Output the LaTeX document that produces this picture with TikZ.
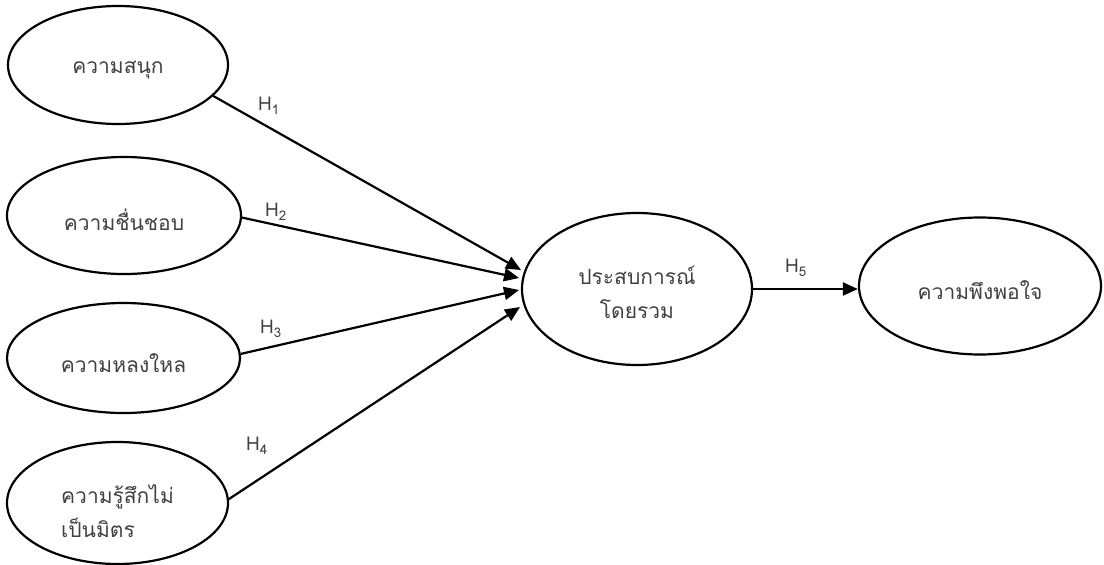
\documentclass[tikz,border=0pt]{standalone}
\usepackage{fontspec}
\newfontfamily\thaifont[Script=Thai]{Loma}
\usetikzlibrary{shapes.geometric,arrows.meta}
\definecolor{txt}{RGB}{64,64,64}
\begin{document}
\begin{tikzpicture}[x=1pt,y=-1pt,
  oval/.style={ellipse,draw=black,line width=2.2pt,inner sep=0pt},
  ovaltext/.style={font=\thaifont\fontsize{21}{34}\selectfont,text=txt,inner sep=0pt},
  link/.style={line width=2.2pt,-{Triangle[length=15pt,width=13pt]}},
  hlabel/.style={font=\thaifont\fontsize{19}{20}\selectfont,text=txt,inner sep=0pt}]
\useasboundingbox (0,0) rectangle (1104,565);
\node[oval,minimum width=220pt,minimum height=118pt] (e1) at (118,65) {};
\node[oval,minimum width=234pt,minimum height=117pt] (e2) at (124,215.5) {};
\node[oval,minimum width=233pt,minimum height=110pt] (e3) at (123.5,358) {};
\node[oval,minimum width=221pt,minimum height=122pt] (e4) at (117.5,503) {};
\node[oval,minimum width=230pt,minimum height=152pt] (e5) at (637,289) {};
\node[oval,minimum width=242pt,minimum height=137pt] (e6) at (980,286) {};
\node[ovaltext] (e1t) at ([yshift=-5pt]e1.center) {ความสนุก};
\node[ovaltext] (e2t) at ([yshift=-4pt]e2.center) {ความชื่นชอบ};
\node[ovaltext] (e3t) at ([yshift=-5pt]e3.center) {ความหลงใหล};
\node[ovaltext,align=left] (e4t) at ([xshift=0pt,yshift=-8pt]e4.center) {ความรู้สึกไม่\\เป็นมิตร};
\node[ovaltext,align=center] (e5t) at ([yshift=-3pt]e5.center) {ประสบการณ์\\โดยรวม};
\node[ovaltext] (e6t) at ([yshift=-4pt]e6.center) {ความพึงพอใจ};
\coordinate (t1) at (521,270);
\coordinate (t2) at (519,278);
\coordinate (t3) at (519,290);
\coordinate (t4) at (520,307);
\draw[link] (e1.-18.6) -- (t1);
\draw[link] (e2.-1) -- (t2);
\draw[link] (e3.2.5) -- (t3);
\draw[link] (e4.2) -- (t4);
\draw[link] (e5.east) -- (e5.east -| e6.west);
\node[hlabel] (h1) at (269,106) {H\textsubscript{1}};
\node[hlabel] (h2) at (276,212) {H\textsubscript{2}};
\node[hlabel] (h3) at (271,329) {H\textsubscript{3}};
\node[hlabel] (h4) at (257,446) {H\textsubscript{4}};
\node[hlabel] (h5) at (796,268) {H\textsubscript{5}};
\end{tikzpicture}
\end{document}
